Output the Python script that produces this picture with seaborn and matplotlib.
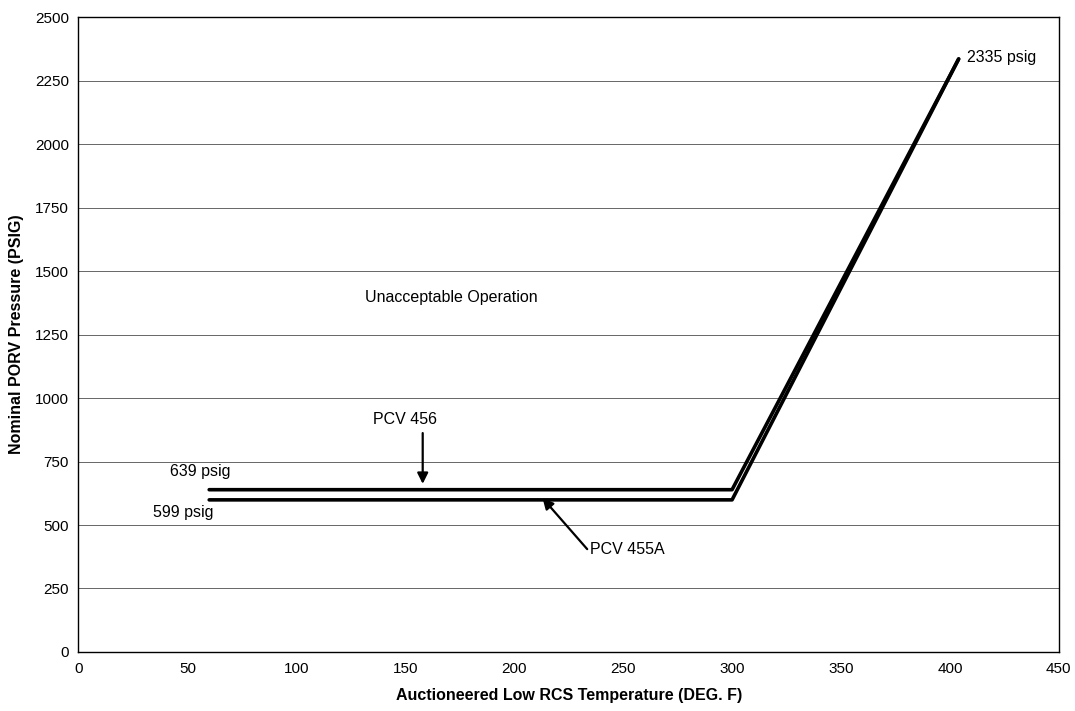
import numpy as np
import pandas as pd
import matplotlib.pyplot as plt
import seaborn as sns

# %%
# setpoint curves
temp_456 = [60, 300, 404]
psig_456 = [639, 639, 2335]
temp_455a = [60, 300, 404]
psig_455a = [599, 599, 2335]

xticks = list(range(0, 451, 50))
yticks = list(range(0, 2501, 250))

df = pd.concat([
    pd.DataFrame({'temp': temp_456, 'psig': psig_456, 'valve': 'PCV 456'}),
    pd.DataFrame({'temp': temp_455a, 'psig': psig_455a, 'valve': 'PCV 455A'}),
])

# %%
sns.set_style('white')
plt.rcParams['font.family'] = ['Liberation Sans', 'DejaVu Sans']
plt.rcParams['text.color'] = 'black'

fig = plt.figure(figsize=(10.75, 7.11), dpi=100, facecolor='w')
ax = fig.add_axes([0.073, 0.083, 0.912, 0.893])

for y in yticks[1:-1]:
    ax.axhline(y, color='#666666', linewidth=0.7, zorder=0)

sns.lineplot(data=df, x='temp', y='psig', units='valve', estimator=None,
             color='black', linewidth=2.6, sort=False, ax=ax, legend=False)

ax.set_xlim(0, 450)
ax.set_ylim(0, 2500)
ax.set_xticks(xticks)
ax.set_yticks(yticks)
ax.tick_params(axis='both', length=0, pad=7, labelsize=11, labelcolor='black')
for s in ax.spines.values():
    s.set_color('black')
    s.set_linewidth(1.0)

ax.set_xlabel('Auctioneered Low RCS Temperature (DEG. F)', fontweight='bold',
              fontsize=11.5, labelpad=9, color='black')
ax.set_ylabel('Nominal PORV Pressure (PSIG)', fontweight='bold',
              fontsize=11.5, labelpad=8, color='black')

# annotations
fs = 11.5
ax.text(56, 709, '639 psig', ha='center', va='center', fontsize=fs)
ax.text(48, 551, '599 psig', ha='center', va='center', fontsize=fs)
ax.text(408, 2339, '2335 psig', ha='left', va='center', fontsize=fs)
ax.text(131.5, 1394, 'Unacceptable Operation', ha='left', va='center', fontsize=fs)
ax.text(150, 915, 'PCV 456', ha='center', va='center', fontsize=fs)
ax.annotate('', xy=(158, 662), xytext=(158, 862),
            arrowprops=dict(arrowstyle='-|>', color='black', lw=1.6,
                            mutation_scale=16, shrinkA=0, shrinkB=0))
ax.text(235, 402, 'PCV 455A', ha='left', va='center', fontsize=fs)
ax.annotate('', xy=(213, 606), xytext=(233.5, 405),
            arrowprops=dict(arrowstyle='-|>', color='black', lw=1.6,
                            mutation_scale=16, shrinkA=0, shrinkB=0))

fig.savefig('out.png', dpi=100)
